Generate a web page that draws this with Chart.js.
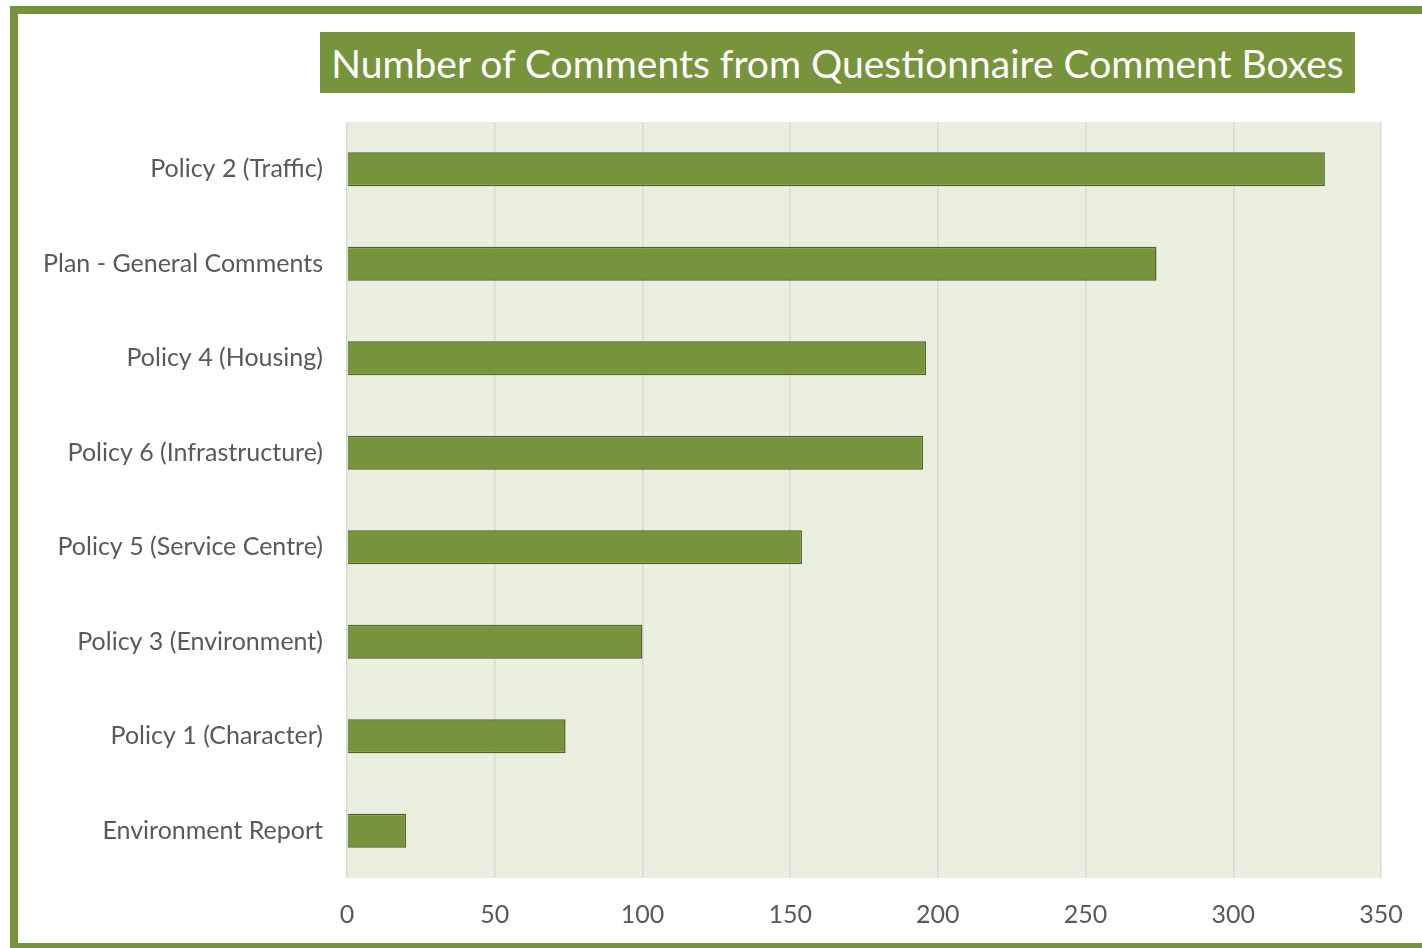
<!DOCTYPE html>
<html>
<head>
<meta charset="utf-8">
<script src="https://cdn.jsdelivr.net/npm/chart.js@4"></script>
<style>
  html, body { margin: 0; padding: 0; background: #fff; overflow: hidden; }
  #wrap { position: relative; width: 1422px; height: 948px; }
  #frame { position: absolute; left: 10px; top: 6px; width: 1440px; height: 929px; border: 8px solid #77933C; }
  #title { position: absolute; left: 320px; top: 32px; width: 1035px; height: 61px; background: #77933C;
           color: #fff; font-family: Lato, sans-serif; font-size: 39px; display: flex; align-items: center; justify-content: center; }
  #chart-holder { position: absolute; left: 0; top: 0; width: 1422px; height: 948px; }
</style>
</head>
<body>
<div id="wrap">
  <div id="frame"></div>
  <div id="chart-holder"><canvas id="bar-chart-canvas" width="1422" height="948"></canvas></div>
  <div id="title">Number of Comments from Questionnaire Comment Boxes</div>
</div>
<script>
const categories = [
    "Policy 2 (Traffic)",
    "Plan - General Comments",
    "Policy 4 (Housing)",
    "Policy 6 (Infrastructure)",
    "Policy 5 (Service Centre)",
    "Policy 3 (Environment)",
    "Policy 1 (Character)",
    "Environment Report"
];
const commentCounts = [331, 274, 196, 195, 154, 100, 74, 20];
const xTicks = [0, 50, 100, 150, 200, 250, 300, 350];

const barColor = "#77933C";
const barBorder = "#4F6228";

const plotBackground = {
    id: 'plotBackground',
    beforeDraw(chart) {
        const a = chart.chartArea;
        const ctx = chart.ctx;
        ctx.save();
        ctx.fillStyle = "#EBEFDF";
        ctx.fillRect(a.left, a.top, a.right - a.left, a.bottom - a.top);
        ctx.restore();
    }
};

new Chart(document.getElementById('bar-chart-canvas'), {
    type: 'bar',
    data: {
        labels: categories,
        datasets: [{
            data: commentCounts,
            backgroundColor: barColor,
            borderColor: barBorder,
            borderWidth: 1.5,
            categoryPercentage: 1,
            barPercentage: 0.36
        }]
    },
    options: {
        indexAxis: 'y',
        responsive: false,
        animation: false,
        layout: { padding: { left: 0, top: 122, right: 0, bottom: 0 } },
        plugins: { legend: { display: false }, tooltip: { enabled: false } },
        scales: {
            x: {
                min: 0,
                max: 350,
                afterBuildTicks(axis) { axis.ticks = xTicks.map(v => ({ value: v })); },
                afterFit(axis) { axis.height = 70; axis.paddingRight = 41; axis.paddingLeft = 0; },
                grid: { color: "#D9D9D9", lineWidth: 1.5, drawTicks: false },
                border: { display: false },
                ticks: { color: "#595959", padding: 22, font: { family: "Lato", size: 25 } }
            },
            y: {
                afterFit(axis) { axis.width = 347; },
                grid: { display: false, drawTicks: false },
                border: { display: false },
                ticks: { color: "#595959", padding: 24, font: { family: "Lato", size: 25 } }
            }
        }
    },
    plugins: [plotBackground]
});
</script>
</body>
</html>
